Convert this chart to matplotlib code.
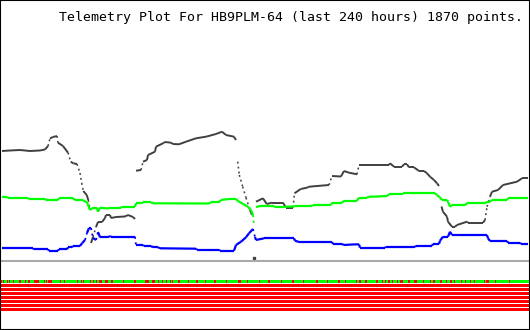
import matplotlib
matplotlib.use("Agg")
import matplotlib.pyplot as plt
from matplotlib.collections import LineCollection

# ---- data (x: position along 240 h window on a 0..530 scale, y: level on inverted 0..330 scale)
black_x = [2,10,20,30,40,45,48,50,53,57,58,63,68,70.7,73.3,77,80,81.7,83.3,86.7,88.3,90,91,93,96,98,102,105,106,110,111,116,125,128,133,135,
           136,141,143,147,148,155,156,163,165,171,173,179,186,196,206,216,222,226,234,236,237.7,239.3,242.7,246,250,252,254,
           256,263,266.7,272,283,286,293,294.5,300.7,307,309,329,332,341,344,349,357,359,389,390,394,402,404,407,409,414,419,424,427,430,434,437,439,
           441.5,443,447,448,452,455,457,467,468,483,485,487,490,492,498,503,517,522,528]
black_y = [151,150.5,150,151,150.5,149.5,146,138.5,137,136,142.7,146,152.7,161.7,163.3,164,173,183,191,195,200,210,243,237,227,222,222,218,215,215,218,217,216.5,215,217,219,
           170.7,170,161.7,160,155,151.7,146.7,143.3,142,142.7,144,144.3,141.7,138.3,136.7,134,131.7,135,136.7,140,161.7,175,186.7,197.7,210,215,257.7,
           201.7,198.3,204,202.7,202.7,207.5,207.5,193.3,189,187.7,186.7,185,176,176.5,171,172.7,174.3,165,165,163.3,166.7,166.7,164.3,164.3,167.3,167.3,171,171,173.3,176.7,180,183.3,186,
           206.5,211.7,216.7,221.7,226.7,226.7,225,221.7,222.7,222.7,220,206.7,196.7,191.7,190,185,181.7,178.3,178.3]

green_x = [2,7,8,28,29,45,46,58,59,73,75,83,85,87,88,90,93,97,98,100,108,110,121,122,135,136,141,143,151,153,209,211,219,221,229,236,238,243,248,251,253,254,
           256,259,274,275,284,285,294,295,312,313,331,332,342,344,357,359,367,369,377,387,389,402,403,435,437,440,442,447,448,450,452,465,467,485,487,490,492,507,508,528]
green_y = [196.7,196.7,198,198,199,199,200,200,198.3,198.3,200,200,201.7,202,205,210,207.7,207.7,211.7,207.7,208.5,207.7,207.7,206.7,206.7,203.3,203.3,202.3,202.3,203.3,203.5,202.3,202.3,200,199,199,201,204,206.7,210,215,225,
           207.3,206,206,207.3,207.3,206.7,206.5,206,206,205,205,202.7,202.7,200.7,200.7,197.7,197.7,196.7,196.5,196,194.3,194.3,193.3,193.3,195,197.5,200,200,201.7,206.7,205,205,203.3,203.3,201.7,201.7,200,200,198.3,198.3]

blue_x = [2,33,34,48,49,58,59,67,68,72,73,80,82,85,87,89,91,93,96,98,100,108,110,111,135,136,143,144,151,153,158,160,196,197,219,220,234,236,241,246,249,253,255,
          256,264,294,295,299,332,333,342,344,352,359,360,385,386,415,416,432,433,439,440,443,448,450,452,487,488,490,507,508,520,521,528]
blue_y = [248.3,248.3,249.3,249.3,250.7,250.7,249.3,249.3,247.3,247.3,246,246,243.3,240,233,228,228,238,240,232,237.3,237.3,236,236.7,236.7,245,245,246,246,247.3,247.3,248.3,248.7,249.7,249.7,250.7,250.7,245,241.7,237.3,233.3,229,237,
          240,238.3,238.3,240.7,242,242,244,244,245,244.5,244.3,247.7,247.7,247,247,245.7,245.7,244,244,240.7,236.7,236.7,231.7,235,235,238.3,241,241,242.7,242.7,244,244]

# bit row 1: positions where bit is off (red); rows 2..8 all off
bit1_red = [(1,2),(3,4),(6.7,7.7),(9,10),(12.7,13.7),(19,21),(25,26),(28.3,30),(34,39),(44,45),(46,47),(48.3,52),(60,61),(64,65),(76.7,77.7),
            (81,82),(83.3,84.3),(90,91),(93.3,94.3),(96,97),(99,102),(105,108.3),(110.7,113),(123.3,124.3),(134,136),(145,149),(151.7,155),
            (158.3,159.3),(161.7,162.7),(165.7,166.7),(170,171),(172.3,173.3),(178.3,180),
            (188,189),(196,198),(205,206),(214,216),(226,227),(238,241),(247,248),(259,260),(268,270),(281,282),(292,294),(303,304),(316,318),(327,328),(338,340),(345,346),
            (356,357),(359.3,361),(365,367),(376,378),(381.7,382.7),(385,386),(388.3,390),(391.7,392.7),(397.3,398.3),(400,403),(408.3,410),
            (414,417),(422.7,423.7),(430,431),(433.3,435),(440,442),(445.7,446.7),(450,452),(454.3,455.3),(461,462.3),(465,466),(470,471),
            (474,475),(484.3,485.3),(485.7,489.3),(495,496),(509.3,510.3)]
n_bit_rows = 8

title = "Telemetry Plot For HB9PLM-64 (last 240 hours) 1870 points."

fig = plt.figure(figsize=(5.3, 3.3), dpi=100)
ax = fig.add_axes([0, 0, 1, 1])
ax.set_xlim(0, 530)
ax.set_ylim(330, 0)
ax.set_xticks([])
ax.set_yticks([])
for s in ax.spines.values():
    s.set_color("black")
    s.set_linewidth(1.5)


def draw_series(xs, ys, color, lw):
    segs, styles, widths = [], [], []
    for i in range(len(xs) - 1):
        dx = xs[i + 1] - xs[i]
        dy = ys[i + 1] - ys[i]
        if dx <= 2.5 and abs(dy) > 15:
            continue  # discontinuity: samples are drawn individually, no connecting dots
        segs.append([(xs[i], ys[i]), (xs[i + 1], ys[i + 1])])
        steep = abs(dy) > 2.5 * max(dx, 0.5) and abs(dy) > 6
        styles.append((0, (1.2, 2.0)) if steep else "solid")
        widths.append(lw * 0.8 if steep else lw)
    lc = LineCollection(segs, colors=color, linestyles=styles, linewidths=widths, capstyle="butt")
    ax.add_collection(lc)


draw_series(black_x, black_y, "#404040", 1.4)
draw_series(green_x, green_y, "#00ff00", 1.6)
draw_series(blue_x, blue_y, "#0000ff", 1.6)
ax.plot([254], [257.7], marker="s", ms=1.5, color="#404040", lw=0)

ax.plot([2, 528], [260.5, 260.5], color="#aaaaaa", lw=1.5)

for r in range(n_bit_rows):
    top = 280 + 4 * r
    ax.broken_barh([(1, 528)], (top, 3), facecolor="#ff0000" if r > 0 else "#00ff00", edgecolor="none")
ax.broken_barh([(a, b - a) for a, b in bit1_red], (280, 3), facecolor="#ff0000", edgecolor="none")

ax.text(523, 17, title, ha="right", va="center", family="DejaVu Sans Mono", fontsize=9.55, color="black")

fig.savefig("out.png", dpi=100, facecolor="white")
